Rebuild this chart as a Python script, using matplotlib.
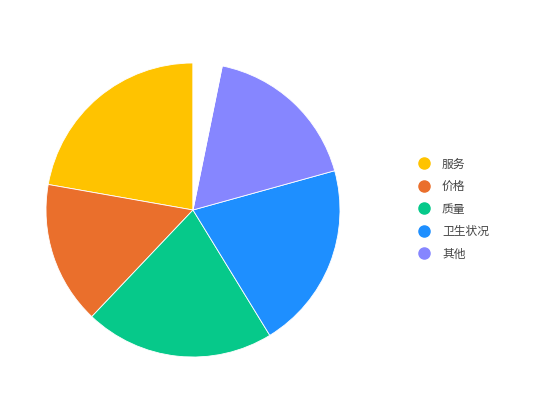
import matplotlib.pyplot as plt
from matplotlib.lines import Line2D

plt.rcParams['font.family'] = ['Noto Sans CJK SC', 'DejaVu Sans']

labels = ['服务', '价格', '质量', '卫生状况', '其他']
values = [80, 56.5, 75, 74, 63]
gap = 11.5  # blank sector at the top
colors = ['#FFC300', '#EA6F2C', '#06C98A', '#1E8FFF', '#8686FF']

fig = plt.figure(figsize=(5.5, 4.2), dpi=100)
cx, cy, r = 193, 210, 147
ax = fig.add_axes([(cx - r) / 550, (420 - cy - r) / 420, 2 * r / 550, 2 * r / 420])
ax.pie(values + [gap], colors=colors + ['white'], startangle=90, counterclock=True,
       radius=1, wedgeprops=dict(linewidth=0.6, edgecolor='white'))
ax.set_xlim(-1, 1)
ax.set_ylim(-1, 1)
ax.set_aspect('auto')

handles = [Line2D([], [], marker='o', linestyle='none', markersize=8,
                  markerfacecolor=c, markeredgecolor=c) for c in colors]
fig.legend(handles, labels, loc='center left', bbox_to_anchor=(406 / 550, 1 - 209 / 420),
           frameon=False, fontsize=8.5, labelcolor='#444444', handletextpad=0.55,
           labelspacing=0.8, borderpad=0)

fig.savefig('out.png', dpi=100)
